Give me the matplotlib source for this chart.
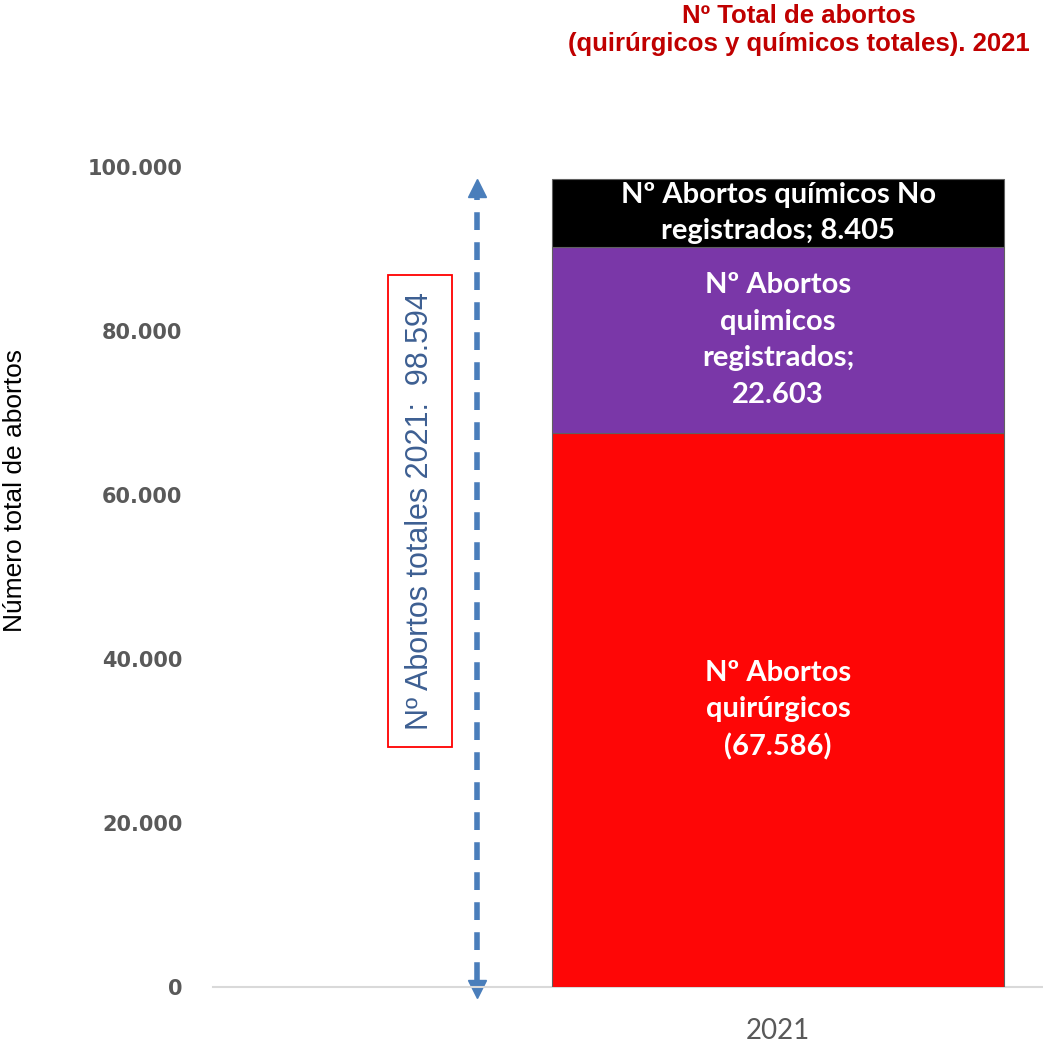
import matplotlib.pyplot as plt

# data
year = "2021"
segments = ["quirurgicos", "quimicos_reg", "quimicos_no_reg"]
values = [67586, 22603, 8405]
colors = ["#FE0606", "#7A37A8", "#000000"]
seg_labels = ["Nº Abortos\nquirúrgicos\n(67.586)",
              "Nº Abortos\nquimicos\nregistrados;\n22.603",
              "Nº Abortos químicos No\nregistrados; 8.405"]
yticks = [0, 20000, 40000, 60000, 80000, 100000]
ytick_labels = ["0", "20.000", "40.000", "60.000", "80.000", "100.000"]
total = sum(values)
total_label = "Nº Abortos totales 2021:  98.594"

fig = plt.figure(figsize=(10.43, 10.42), dpi=100)
ax = fig.add_axes([213 / 1043, 55 / 1042, 830 / 1043, 820 / 1042])

bottom = 0
for v, c, lab in zip(values, colors, seg_labels):
    ax.bar(0, v, width=1.0, bottom=bottom, color=c, edgecolor="#606060", linewidth=0.8, zorder=3)
    ax.text(0, bottom + v / 2, lab, ha="center", va="center", color="white",
            fontsize=21, fontweight="bold", family="Lato", linespacing=1.5, zorder=4)
    bottom += v

ax.set_xlim(-1.25, 0.586)
ax.set_ylim(0, 100000)
ax.set_xticks([0])
ax.set_xticklabels([year], fontsize=20, family="Lato", color="#595959")
ax.set_yticks(yticks)
ax.set_yticklabels(ytick_labels, fontsize=15, fontweight="bold", family="DejaVu Sans", color="#595959")
ax.tick_params(length=0, pad=22)
ax.tick_params(axis="x", pad=22)
for s in ["top", "right", "left"]:
    ax.spines[s].set_visible(False)
ax.spines["bottom"].set_color("#D9D9D9")
ax.spines["bottom"].set_linewidth(1.5)

ax.set_ylabel("Número total de abortos", fontsize=19, family="Liberation Sans", color="black")
ax.yaxis.set_label_coords(-186 / 830, (987 - 490) / 820)

# double arrow marking the total
ax_x = -0.666
ax.plot([ax_x, ax_x], [800, total - 1800], color="#4A7EBB", lw=4, ls=(0, (3.2, 2.2)), zorder=2, clip_on=False)
ax.plot(ax_x, total - 1100, marker="^", ms=13, color="#4A7EBB", clip_on=False, zorder=2)
ax.plot(ax_x, -200, marker="v", ms=13, color="#4A7EBB", clip_on=False, zorder=2)

ax.text(-0.792, 58049, total_label, rotation=90, ha="center", va="center",
        fontsize=22, family="Liberation Sans", color="#3D5F92",
        bbox=dict(boxstyle="square,pad=0.55", fc="white", ec="#FF0000", lw=1.3))

fig.text(799 / 1043, 1 - 4 / 1042, "Nº Total de abortos\n(quirúrgicos y químicos totales). 2021",
         ha="center", va="top", color="#C00000", fontsize=18.5, fontweight="bold",
         family="Liberation Sans", linespacing=1.2)

fig.savefig("out.png", dpi=100)
